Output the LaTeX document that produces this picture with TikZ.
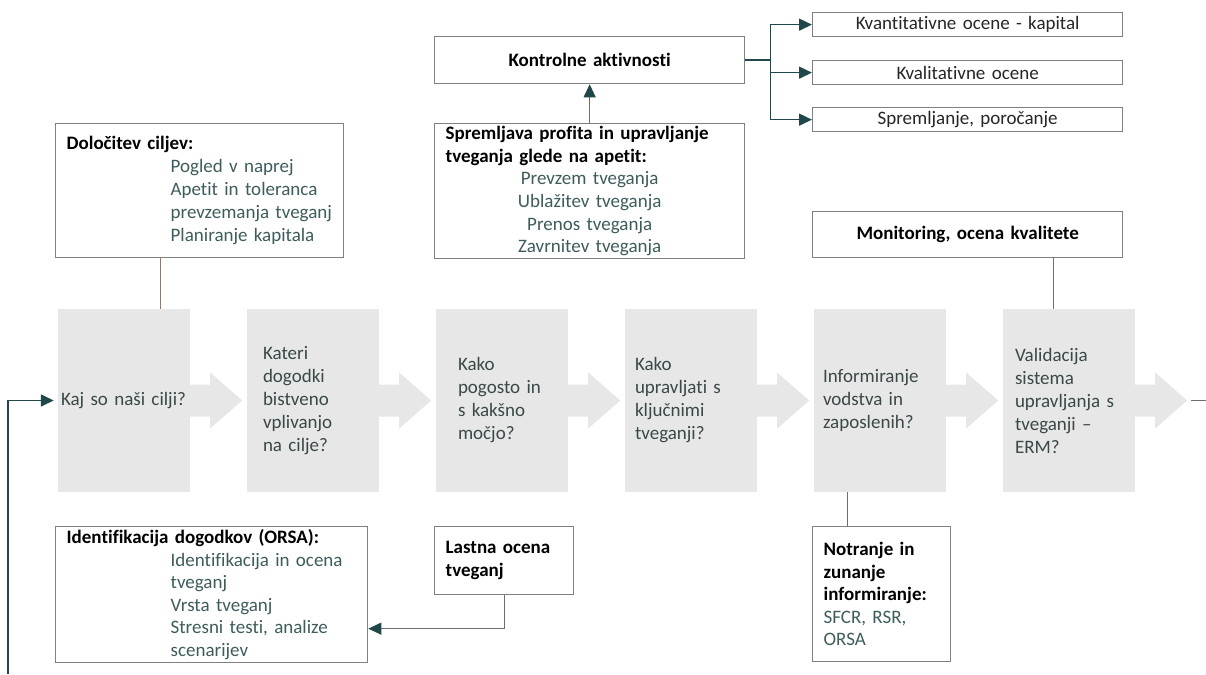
\documentclass[tikz,border=0pt]{standalone}
\usepackage{fontspec}
\setmainfont{Carlito}[Ligatures={TeX,NoCommon}]
\usetikzlibrary{arrows.meta}
\definecolor{stagegray}{RGB}{231,231,231}
\definecolor{stagetxt}{RGB}{58,72,72}
\definecolor{subtxt}{RGB}{62,92,92}
\definecolor{boxline}{RGB}{128,128,128}
\definecolor{tealdark}{RGB}{32,72,74}
\definecolor{brownln}{RGB}{150,118,100}
\definecolor{grayln}{RGB}{110,110,110}
\newcommand{\subln}[1]{\hspace*{104pt}\mbox{\textcolor{subtxt}{#1}}}
\newcommand{\midln}[1]{\makebox[288pt]{\textcolor{subtxt}{#1}}}
\tikzset{
  stage_g/.style = {fill=stagegray, text=stagetxt, align=left, inner sep=0pt,
    minimum width=132pt, minimum height=183pt, font=\fontsize{19}{23}\selectfont},
  chev_g/.style = {fill=stagegray},
  note_w/.style = {draw=boxline, line width=1.3pt, fill=white, anchor=north west,
    align=left, inner xsep=11pt, inner ysep=0pt, font=\fontsize{19}{23}\selectfont},
  note_c/.style = {note_w, align=center, text width=288pt},
  link_t/.style = {draw=tealdark, line width=1.5pt},
  link_g/.style = {draw=grayln, line width=1pt},
  link_b/.style = {draw=brownln, line width=1pt},
  tip_t/.style = {-{Triangle[length=13pt,width=12pt,color=tealdark]}}
}
\begin{document}
\begin{tikzpicture}[x=1pt,y=-1pt]
\useasboundingbox (0,0) rectangle (1206,674);

\node[stage_g, text width=126pt] (s1) at (124,400.5) {Kaj so naši cilji?};
\node[stage_g, text width=100pt] (s2) at (313,400.5) {Kateri\\dogodki\\bistveno\\vplivanjo\\na cilje?};
\node[stage_g, text width=88pt] (s3) at (502,400.5) {Kako\\pogosto in\\s kakšno\\močjo?};
\node[stage_g, text width=112pt] (s4) at (691,400.5) {Kako\\upravljati s\\ključnimi\\tveganji?};
\node[stage_g, text width=114pt] (s5) at (880,400.5) {Informiranje\\vodstva in\\zaposlenih?};
\node[stage_g, text width=108pt] (s6) at (1069,400.5) {Validacija\\sistema\\upravljanja s\\tveganji --\\ERM?};
\foreach \s in {s1,s2,s3,s4,s5,s6}
  \fill[chev_g] (\s.east) ++(0,-16) -- ++(20,0) -- ++(0,-12) -- ++(32,28)
    -- ++(-32,28) -- ++(0,-12) -- ++(-20,0) -- cycle;

\node[note_w, text width=266pt, minimum height=134pt] (dol) at (55,123)
  {\textbf{Določitev ciljev:}\\\subln{Pogled v naprej}\\\subln{Apetit in toleranca}\\
   \subln{prevzemanja tveganj}\\\subln{Planiranje kapitala}};
\node[note_w, text width=288pt, minimum height=135pt, font=\fontsize{19}{22.6}\selectfont] (spr) at (434,123)
  {\textbf{Spremljava profita in upravljanje}\\\textbf{tveganja glede na apetit:}\\
   \midln{Prevzem tveganja}\\\midln{Ublažitev tveganja}\\\midln{Prenos tveganja}\\\midln{Zavrnitev tveganja}};
\node[note_c, minimum height=47pt] (kon) at (434,36) {\textbf{Kontrolne aktivnosti}};
\node[note_c, minimum height=24pt, text=black!85] (kq) at (812,12) {Kvantitativne ocene - kapital};
\node[note_c, minimum height=24pt, text=black!85] (kl) at (812,60) {Kvalitativne ocene};
\node[note_c, minimum height=24pt, text=black!85] (ks) at (812,107) {Spremljanje, poročanje};
\node[note_c, minimum height=46pt] (mon) at (812,211) {\textbf{Monitoring, ocena kvalitete}};
\node[note_w, text width=290pt, minimum height=136pt, font=\fontsize{19}{22.6}\selectfont] (ident) at (55,526)
  {\textbf{Identifikacija dogodkov (ORSA):}\\\subln{Identifikacija in ocena}\\\subln{tveganj}\\
   \subln{Vrsta tveganj}\\\subln{Stresni testi, analize}\\\subln{scenarijev}};
\node[note_w, text width=117pt, minimum height=68pt] (last) at (434,526)
  {\textbf{Lastna ocena}\\\textbf{tveganj}};
\node[note_w, text width=116pt, minimum height=135pt, font=\fontsize{19}{22.5}\selectfont] (notr) at (812,526)
  {\textbf{Notranje in}\\\textbf{zunanje}\\\textbf{informiranje:}\\\textcolor{subtxt}{SFCR, RSR,}\\\textcolor{subtxt}{ORSA}};

\draw[link_g, tip_t] (spr.north) -- (kon.south);
\draw[link_t] (kon.east) -- ++(25,0) coordinate (br);
\foreach \t in {kq,kl,ks}
  \draw[link_t, tip_t] (br) |- (\t.west);
\draw[link_b] ([xshift=36pt]s1.north) -- ([xshift=36pt]s1.north |- dol.south);
\draw[link_g] ([xshift=-16pt]s6.north) -- ([xshift=-16pt]s6.north |- mon.south);
\draw[link_g] ([xshift=-33pt]s5.south) -- ([xshift=-33pt]s5.south |- notr.north);
\draw[link_g, tip_t] (last.south) |- ([yshift=-34pt]ident.east);

\coordinate (loop_in) at (8,674);
\coordinate (loop_out) at (1206,400.5);
\draw[link_t, tip_t] (loop_in) |- ([xshift=-4pt]s1.west);
\draw[link_g] ([xshift=56pt]s6.east) -- (loop_out);
\end{tikzpicture}
\end{document}
